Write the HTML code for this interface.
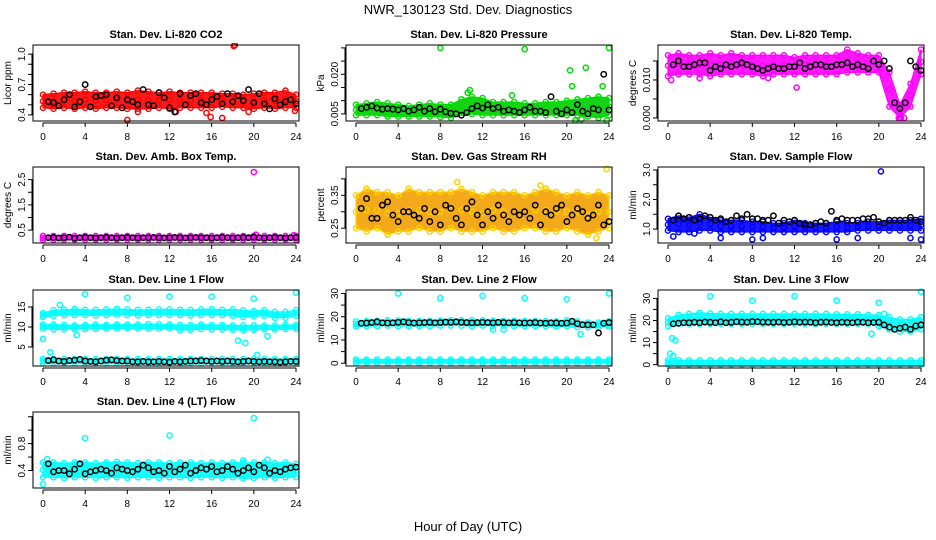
<!DOCTYPE html>
<html><head><meta charset="utf-8"><style>
html,body{margin:0;padding:0;background:#fff;}
svg{display:block;font-family:"Liberation Sans",Arial,sans-serif;}
</style></head><body>
<svg id="chart" width="936" height="540" viewBox="0 0 936 540" xmlns="http://www.w3.org/2000/svg">
<rect width="936" height="540" fill="#fff"/>
<text x="468" y="14" text-anchor="middle" font-size="13">NWR_130123 Std. Dev. Diagnostics</text>
<text x="468" y="531" text-anchor="middle" font-size="13">Hour of Day (UTC)</text>
</svg>
<script>
const blackHours=[0.5,1,1.5,2,2.5,3,3.5,4,4.5,5,5.5,6,6.5,7,7.5,8,8.5,9,9.5,10,10.5,11,11.5,12,12.5,13,13.5,14,14.5,15,15.5,16,16.5,17,17.5,18,18.5,19,19.5,20,20.5,21,21.5,22,22.5,23,23.5,24];
const bandHours=[0,1,2,3,4,5,6,7,8,9,10,11,12,13,14,15,16,17,18,19,20,21,22,23,24];
const xTicks=[0,4,8,12,16,20,24];

const co2Black=[0.53,0.52,0.49,0.55,0.60,0.48,0.53,0.70,0.48,0.58,0.59,0.60,0.49,0.57,0.47,0.55,0.53,0.50,0.65,0.50,0.49,0.62,0.57,0.47,0.43,0.61,0.50,0.59,0.61,0.52,0.50,0.55,0.58,0.51,0.61,0.53,0.59,0.54,0.65,0.52,0.61,0.51,0.46,0.56,0.50,0.53,0.55,0.51];
const co2Lo=[0.47,0.46,0.47,0.46,0.47,0.46,0.47,0.47,0.46,0.46,0.46,0.47,0.46,0.47,0.47,0.47,0.47,0.48,0.47,0.47,0.46,0.47,0.46,0.47,0.47];
const co2Hi=[0.60,0.61,0.62,0.62,0.63,0.62,0.62,0.63,0.62,0.64,0.63,0.62,0.63,0.62,0.62,0.62,0.62,0.61,0.61,0.60,0.61,0.62,0.62,0.64,0.60];
const co2OutX=[18.1,18.2,8,15.9,17,15.5,9,19.5,23.9,12.6];
const co2OutY=[1.08,1.09,0.35,0.38,0.37,0.42,0.43,0.43,0.44,0.43];

const presBlack=[0.0070,0.0075,0.0080,0.0072,0.0068,0.0070,0.0068,0.0065,0.0070,0.0060,0.0065,0.0075,0.0060,0.0070,0.0058,0.0068,0.0058,0.0052,0.0050,0.0045,0.0055,0.0070,0.0080,0.0072,0.0085,0.0070,0.0075,0.0060,0.0065,0.0060,0.0055,0.0065,0.0075,0.0060,0.0060,0.0055,0.0115,0.0060,0.0050,0.0065,0.0055,0.0085,0.0060,0.0050,0.0070,0.0065,0.0200,0.0065];
const presLo=[0.0045,0.0045,0.0045,0.0040,0.0040,0.0040,0.0040,0.0040,0.0038,0.0035,0.0045,0.0050,0.0045,0.0045,0.0045,0.0045,0.0045,0.0045,0.0045,0.0045,0.0045,0.0045,0.0040,0.0035,0.0045];
const presHi=[0.0085,0.0090,0.0095,0.0090,0.0085,0.0080,0.0085,0.0090,0.0085,0.0085,0.0105,0.0115,0.0110,0.0095,0.0095,0.0095,0.0090,0.0090,0.0095,0.0095,0.0100,0.0105,0.0110,0.0115,0.0110];
const presOutX=[8,16,24,20.3,21.8,10.8,10.6,14.8,20.5,23.4,23.8,20.8,21.4];
const presOutY=[0.0300,0.0295,0.0300,0.0215,0.0225,0.0140,0.0130,0.0120,0.0155,0.0155,0.0025,0.0025,0.0030];

const tempBlack=[0.0140,0.0150,0.0135,0.0135,0.0140,0.0145,0.0145,0.0125,0.0135,0.0130,0.0140,0.0135,0.0140,0.0145,0.0140,0.0135,0.0130,0.0125,0.0130,0.0135,0.0130,0.0130,0.0135,0.0135,0.0145,0.0130,0.0135,0.0140,0.0140,0.0135,0.0135,0.0140,0.0140,0.0145,0.0135,0.0140,0.0135,0.0130,0.0150,0.0140,0.0150,0.0130,0.0040,0.0025,0.0040,0.0150,0.0135,0.0125];
const tempLo=[0.011,0.0115,0.0115,0.0115,0.011,0.0115,0.0115,0.0115,0.0115,0.011,0.0115,0.0115,0.0115,0.0115,0.0115,0.0115,0.0115,0.012,0.012,0.012,0.012,0.003,0.0,0.003,0.0115];
const tempHi=[0.0165,0.0170,0.0165,0.0165,0.0170,0.0165,0.0170,0.0165,0.0165,0.0165,0.0165,0.0165,0.0160,0.0165,0.0165,0.0165,0.0165,0.0180,0.0170,0.0165,0.0165,0.0120,0.0035,0.0090,0.0180];
const tempOutX=[0.3,12.2,3,9.5,21.9,22.1,22.4];
const tempOutY=[0.010,0.008,0.0105,0.0105,0.0,0.0,0.0];

const ambBlack=[0.20,0.21,0.19,0.20,0.22,0.18,0.20,0.21,0.20,0.19,0.20,0.21,0.20,0.19,0.20,0.21,0.20,0.19,0.20,0.20,0.21,0.20,0.19,0.20,0.21,0.20,0.19,0.20,0.21,0.20,0.20,0.19,0.20,0.21,0.20,0.19,0.20,0.21,0.20,0.22,0.20,0.19,0.20,0.21,0.20,0.19,0.20,0.21];
const ambLo=[0.12,0.12,0.12,0.12,0.12,0.12,0.12,0.12,0.12,0.12,0.12,0.12,0.12,0.12,0.12,0.12,0.12,0.12,0.12,0.12,0.12,0.12,0.12,0.12,0.12];
const ambHi=[0.27,0.27,0.27,0.27,0.27,0.27,0.27,0.27,0.27,0.27,0.27,0.27,0.27,0.27,0.27,0.27,0.27,0.27,0.27,0.27,0.27,0.27,0.27,0.27,0.27];
const ambOutX=[20,20.2,23.8];
const ambOutY=[2.8,0.32,0.30];

const rhBlack=[0.31,0.34,0.28,0.28,0.32,0.33,0.29,0.27,0.30,0.30,0.29,0.28,0.31,0.27,0.30,0.26,0.32,0.31,0.28,0.26,0.31,0.33,0.29,0.26,0.30,0.28,0.32,0.29,0.27,0.30,0.29,0.30,0.28,0.32,0.26,0.30,0.29,0.31,0.32,0.27,0.29,0.31,0.30,0.28,0.29,0.32,0.26,0.27];
const rhLo=[0.25,0.24,0.25,0.23,0.24,0.24,0.25,0.24,0.24,0.25,0.24,0.24,0.24,0.25,0.24,0.24,0.25,0.25,0.24,0.24,0.25,0.24,0.23,0.24,0.25];
const rhHi=[0.35,0.37,0.36,0.36,0.35,0.37,0.36,0.36,0.36,0.36,0.37,0.36,0.35,0.36,0.36,0.36,0.35,0.36,0.37,0.36,0.35,0.36,0.35,0.36,0.35];
const rhOutX=[23.8,9.6,17.5,22.8];
const rhOutY=[0.43,0.39,0.38,0.22];

const flowBlack=[1.3,1.45,1.35,1.4,1.3,1.35,1.45,1.4,1.3,1.35,1.25,1.3,1.45,1.35,1.5,1.35,1.35,1.3,1.3,1.45,1.2,1.3,1.25,1.3,1.2,1.15,1.15,1.2,1.25,1.2,1.6,1.3,1.35,1.3,1.3,1.3,1.35,1.35,1.4,1.25,1.2,1.3,1.3,1.3,1.3,1.4,1.3,1.25];
const flowLo=[0.95,0.9,0.9,0.95,0.95,0.9,0.9,0.9,0.9,0.9,0.9,0.9,0.9,0.9,0.9,0.9,0.9,0.9,0.95,0.95,0.95,0.95,0.95,0.95,0.95];
const flowHi=[1.35,1.45,1.4,1.5,1.4,1.3,1.3,1.3,1.25,1.25,1.2,1.2,1.3,1.2,1.2,1.2,1.25,1.2,1.2,1.25,1.25,1.3,1.3,1.3,1.35];
const flowOutX=[20.2,0.5,2.5,5,8,9,16,18,23,24];
const flowOutY=[2.95,0.75,0.85,0.7,0.65,0.7,0.65,0.7,0.7,0.65];

const l1Black=[1.6,1.8,1.5,1.4,1.6,1.7,1.9,1.5,1.4,1.3,1.5,1.7,1.8,1.6,1.5,1.5,1.3,1.3,1.4,1.3,1.3,1.4,1.3,1.2,1.4,1.3,1.4,1.5,1.5,1.6,1.5,1.4,1.5,1.4,1.5,1.4,1.3,1.4,1.5,1.4,1.3,1.4,1.3,1.3,1.2,1.3,1.4,1.4];
const l1LoA=[12.5,12.8,13,13,13,12.9,13,13.1,13,12.9,13,13,13,13,12.9,13,13,13,12.8,12.5,12.7,12.8,12.3,12.3,12.8];
const l1HiA=[13.5,14.2,14.3,14.5,14.3,14.3,14.4,14.5,14.4,14.3,14.3,14.4,14.4,14.3,14.3,14.4,14.5,14.3,14.4,14.2,14,14.2,13.8,13.8,14.2];
const l1LoB=[9.6,9.4,9.4,9.5,9.5,9.5,9.6,9.6,9.6,9.6,9.6,9.6,9.6,9.2,9.3,9.5,9.4,9.4,9.3,9.2,9.3,9.4,9.4,9.5,9.5];
const l1HiB=[10.6,10.6,10.5,10.4,10.5,10.6,10.5,10.6,10.6,10.6,10.7,10.7,10.6,10.5,10.5,10.6,10.5,10.5,10.4,10.4,10.4,10.4,10.4,10.5,10.5];
const l1LoC=[0.9,0.9,0.9,0.9,0.9,0.9,0.9,0.9,0.9,0.9,0.9,0.9,0.9,0.9,0.9,0.9,0.9,0.9,0.9,0.9,0.9,0.9,0.9,0.9,0.9];
const l1HiC=[2,2,2,2,2,2,2,2,2,2,2,2,2,2,2,2,2,2,2,2,2,2,2,2,2];
const l1OutX=[4,8,12,16,24,20,0,0.7,18.5,19.2,20.3,3.2,1.6,21.3];
const l1OutY=[18.2,17.3,17.6,17.6,18.6,17.1,7,3.7,6.6,6,3,8,15.5,7.7];

const l2Black=[17.2,17.3,17.5,17.8,17.4,17.3,17.4,17.6,17.8,17.5,17.3,17.4,17.5,17.6,17.4,17.5,17.7,17.6,17.8,17.6,17.5,17.4,17.5,17.6,17.5,17.4,17.6,17.5,17.4,17.5,17.4,17.3,17.4,17.5,17.3,17.2,17.4,17.3,17.2,17.3,18,17,16.5,16.5,16.5,13,17.2,17.5];
const l2LoA=[15.8,16,16,16.2,16,16,16,16,16.2,16.2,16.2,16,16.2,16.2,16.2,16,16,16,16,15.8,16,15.5,15.5,15.5,15.8];
const l2HiA=[18,18.2,18.3,18.5,18.4,18.3,18.2,18.3,18.4,18.5,18.5,18.5,18.4,18.3,18.2,18.3,18.2,18.2,18.1,18,18.5,18,17.5,17.5,18];
const l2LoB=[0,0,0,0,0,0,0,0,0,0,0,0,0,0,0,0,0,0,0,0,0,0,0,0,0];
const l2HiB=[1.6,1.6,1.6,1.6,1.6,1.6,1.6,1.6,1.6,1.6,1.6,1.6,1.6,1.6,1.6,1.6,1.6,1.6,1.6,1.6,1.6,1.6,1.6,1.6,1.6];
const l2OutX=[4,8,12,16,20,24,21.3,13,14];
const l2OutY=[30,28,29,28,27.5,30,12.5,14.5,14.5];

const l3Black=[18.5,18.8,19,19,19.2,19,19.3,19.2,19,19.4,19,19.2,19.4,19.3,19.2,19.5,19.4,19.3,19.2,19.2,19.3,19.1,19.2,19.4,19.2,19.3,19.2,19,19.2,19.3,19.1,19,19.2,19.1,19,19.3,19.2,19,19.1,19.2,18,17,16,16.5,17,16,17.5,18];
const l3LoA=[17.5,18.5,18.5,18.5,18.5,18.5,18.5,18.5,18.5,18.5,18.5,18.5,18.5,18.5,18.5,18.5,18.5,18.5,18.5,18.5,17.5,16,15,15,16];
const l3HiA=[21,22.5,23,23.5,23.2,23,23,23,23,23,23,23,23,23,23,23,22.8,22.8,22.8,22.5,22.5,21.5,20.5,20.5,21.5];
const l3LoB=[0,0,0,0,0,0,0,0,0,0,0,0,0,0,0,0,0,0,0,0,0,0,0,0,0];
const l3HiB=[2,2,2,2,2,2,2,2,2,2,2,2,2,2,2,2,2,2,2,2,2,2,2,2,2];
const l3OutX=[4,8,12,16,20,24,0.2,0.5,0.4,0.7,19.3,20.5];
const l3OutY=[31,29,31,29,28,33,5,4,12,11,14,23];

const l4Black=[0.50,0.38,0.40,0.40,0.35,0.42,0.50,0.35,0.38,0.40,0.42,0.40,0.36,0.44,0.42,0.40,0.38,0.42,0.48,0.44,0.38,0.40,0.36,0.46,0.38,0.42,0.48,0.36,0.40,0.44,0.42,0.46,0.38,0.40,0.46,0.42,0.36,0.40,0.44,0.38,0.48,0.44,0.36,0.40,0.38,0.42,0.44,0.45];
const l4Lo=[0.30,0.30,0.29,0.30,0.30,0.29,0.30,0.30,0.29,0.30,0.30,0.29,0.30,0.30,0.29,0.30,0.30,0.29,0.30,0.28,0.29,0.30,0.29,0.30,0.30];
const l4Hi=[0.52,0.52,0.51,0.52,0.52,0.51,0.52,0.53,0.52,0.51,0.52,0.52,0.51,0.52,0.52,0.51,0.52,0.51,0.52,0.51,0.52,0.52,0.51,0.52,0.50];
const l4OutX=[4,12,20,0,19,21.3,0.4];
const l4OutY=[0.88,0.92,1.18,0.2,0.55,0.56,0.57];

const NS="http://www.w3.org/2000/svg";
const svg=document.getElementById('chart');
function mk(tag,attrs,parent){const e=document.createElementNS(NS,tag);for(const k in attrs)e.setAttribute(k,attrs[k]);(parent||svg).appendChild(e);return e;}

const colL=[33,346,658], rowT=[45,167,290,412], W=266, H=76;
const panels=[
 {key:'co2',title:'Stan. Dev. Li-820 CO2',ylab:'Licor ppm',c:0,r:0,ymin:0.34,ymax:1.09,ticks:[0.4,0.5,0.6,0.7,0.8,0.9,1.0],labs:[[0.4,'0.4'],[0.7,'0.7'],[1.0,'1.0']],col:'#ff0000',fill:'#ff0000',bands:[[co2Lo,co2Hi]],black:co2Black,ox:co2OutX,oy:co2OutY},
 {key:'pressure',title:'Stan. Dev. Li-820 Pressure',ylab:'kPa',c:1,r:0,ymin:0.0023,ymax:0.0311,ticks:[0.005,0.010,0.015,0.020,0.025,0.030],labs:[[0.005,'0.005'],[0.020,'0.020']],col:'#00dd00',fill:'#00cc00',bands:[[presLo,presHi]],black:presBlack,ox:presOutX,oy:presOutY},
 {key:'temp',title:'Stan. Dev. Li-820 Temp.',ylab:'degrees C',c:2,r:0,ymin:-0.0008,ymax:0.0192,ticks:[0,0.005,0.010,0.015],labs:[[0,'0.000'],[0.010,'0.010']],col:'#ff00ff',fill:'#ff00ff',bands:[[tempLo,tempHi]],black:tempBlack,ox:tempOutX,oy:tempOutY},
 {key:'amb',title:'Stan. Dev. Amb. Box Temp.',ylab:'degrees C',c:0,r:1,ymin:-0.01,ymax:3.0,ticks:[0.5,1,1.5,2,2.5],labs:[[0.5,'0.5'],[1.5,'1.5'],[2.5,'2.5']],col:'#ff00ff',fill:'#ff00ff',bands:[[ambLo,ambHi]],black:ambBlack,ox:ambOutX,oy:ambOutY},
 {key:'rh',title:'Stan. Dev. Gas Stream RH',ylab:'percent',c:1,r:1,ymin:0.205,ymax:0.436,ticks:[0.25,0.30,0.35,0.40],labs:[[0.25,'0.25'],[0.35,'0.35']],col:'#ffd000',fill:'#f2a000',bands:[[rhLo,rhHi]],black:rhBlack,ox:rhOutX,oy:rhOutY},
 {key:'sample-flow',title:'Stan. Dev. Sample Flow',ylab:'ml/min',c:2,r:1,ymin:0.53,ymax:3.1,ticks:[1,1.5,2,2.5,3],labs:[[1,'1.0'],[2,'2.0'],[3,'3.0']],col:'#0000ff',fill:'#0000ff',bands:[[flowLo,flowHi]],black:flowBlack,ox:flowOutX,oy:flowOutY},
 {key:'line1',title:'Stan. Dev. Line 1 Flow',ylab:'ml/min',c:0,r:2,ymin:0.25,ymax:19.25,ticks:[5,10,15],labs:[[5,'5'],[10,'10'],[15,'15']],col:'#00ffff',fill:'#00ffff',bands:[[l1LoA,l1HiA],[l1LoB,l1HiB],[l1LoC,l1HiC]],black:l1Black,ox:l1OutX,oy:l1OutY},
 {key:'line2',title:'Stan. Dev. Line 2 Flow',ylab:'ml/min',c:1,r:2,ymin:-1.2,ymax:31.5,ticks:[0,5,10,15,20,25,30],labs:[[0,'0'],[10,'10'],[20,'20'],[30,'30']],col:'#00ffff',fill:'#00ffff',bands:[[l2LoA,l2HiA],[l2LoB,l2HiB]],black:l2Black,ox:l2OutX,oy:l2OutY},
 {key:'line3',title:'Stan. Dev. Line 3 Flow',ylab:'ml/min',c:2,r:2,ymin:-0.6,ymax:33.8,ticks:[0,5,10,15,20,25,30],labs:[[0,'0'],[10,'10'],[20,'20'],[30,'30']],col:'#00ffff',fill:'#00ffff',bands:[[l3LoA,l3HiA],[l3LoB,l3HiB]],black:l3Black,ox:l3OutX,oy:l3OutY},
 {key:'line4',title:'Stan. Dev. Line 4 (LT) Flow',ylab:'ml/min',c:0,r:3,ymin:0.14,ymax:1.27,ticks:[0.4,0.6,0.8,1.0,1.2],labs:[[0.4,'0.4'],[0.8,'0.8']],col:'#00ffff',fill:'#00ffff',bands:[[l4Lo,l4Hi]],black:l4Black,ox:l4OutX,oy:l4OutY}
];

panels.forEach(p=>{
  const L=colL[p.c], T=rowT[p.r], B=T+H, R=L+W;
  const xs=h=>L+10+h*(253/24);
  const ys=v=>B-(v-p.ymin)/(p.ymax-p.ymin)*H;
  const g=mk('g',{});
  
  
  const t=mk('text',{x:L+W/2,y:T-7,'text-anchor':'middle','font-size':'11','font-weight':'bold'},g);
  t.textContent=p.title;
  
  
  const yl=mk('text',{x:0,y:0,'text-anchor':'middle','font-size':'10',transform:`translate(${L-22},${T+H/2}) rotate(-90)`},g);
  yl.textContent=p.ylab;
  
  
  const cp=mk('clipPath',{id:'clip-'+p.key},g);
  mk('rect',{x:L,y:T-2,width:W,height:H+4},cp);
  const marks=mk('g',{'clip-path':`url(#clip-${p.key})`},g);
  
  
  p.bands.forEach(([lo,hi],bi)=>{
    let pts=bandHours.map((h,i)=>xs(h)+','+ys(hi[i]));
    pts=pts.concat(bandHours.map((h,i)=>xs(h)+','+ys(lo[i])).reverse());
    const poly=mk('polygon',{points:pts.join(' '),fill:p.fill,'fill-opacity':'0.9',stroke:p.col,'stroke-width':'1.2','stroke-linejoin':'round'},marks);
    
    
    bandHours.forEach((h,i)=>{
      [lo[i],hi[i],(lo[i]+hi[i])/2].forEach(v=>{
        const c=mk('circle',{cx:xs(h),cy:ys(v),r:2.6,fill:'none',stroke:p.col,'stroke-width':'1.4'},marks);
        
        
      });
    });
  });
  p.ox.forEach((h,i)=>{
    const c=mk('circle',{cx:xs(h),cy:ys(p.oy[i]),r:2.6,fill:'none',stroke:p.col,'stroke-width':'1.5'},marks);
    
    
  });
  p.black.forEach((v,i)=>{
    const c=mk('circle',{cx:xs(blackHours[i]),cy:ys(v),r:2.7,fill:'none',stroke:'#000','stroke-width':'1.5'},marks);
    
    
  });
  const box=mk('rect',{x:L,y:T,width:W,height:H,fill:'none',stroke:'#000','stroke-width':'1'},g);
  
  
  const xa=mk('g',{},g);
  
  
  mk('line',{x1:xs(0),x2:xs(24),y1:B+2,y2:B+2,stroke:'#000'},xa);
  xTicks.forEach(h=>{
    mk('line',{x1:xs(h),x2:xs(h),y1:B+2,y2:B+6,stroke:'#000'},xa);
    const tl=mk('text',{x:xs(h),y:B+19,'text-anchor':'middle','font-size':'10'},xa);
    tl.textContent=h;
    
    
  });
  const ya=mk('g',{},g);
  
  
  mk('line',{x1:L-1,x2:L-1,y1:ys(p.ticks[0]),y2:ys(p.ticks[p.ticks.length-1]),stroke:'#000'},ya);
  p.ticks.forEach(v=>{mk('line',{x1:L-5,x2:L,y1:ys(v),y2:ys(v),stroke:'#000'},ya);});
  p.labs.forEach(([v,s])=>{
    const tl=mk('text',{x:0,y:0,'text-anchor':'middle','font-size':'10',transform:`translate(${L-8},${ys(v)}) rotate(-90)`},ya);
    tl.textContent=s;
    
    
  });
});
</script>
</body></html>
